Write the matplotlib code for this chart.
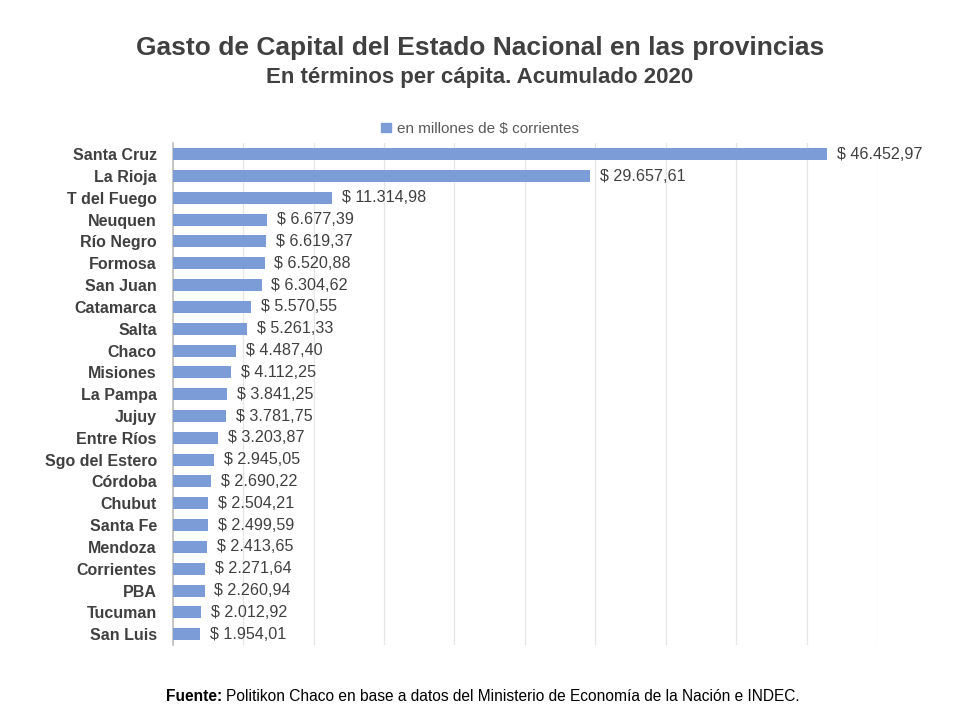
import matplotlib.pyplot as plt
from matplotlib.patches import Patch

plt.rcParams['font.family'] = ['Liberation Sans', 'DejaVu Sans']

provincias = ['Santa Cruz', 'La Rioja', 'T del Fuego', 'Neuquen', 'Río Negro', 'Formosa',
              'San Juan', 'Catamarca', 'Salta', 'Chaco', 'Misiones', 'La Pampa', 'Jujuy',
              'Entre Ríos', 'Sgo del Estero', 'Córdoba', 'Chubut', 'Santa Fe', 'Mendoza',
              'Corrientes', 'PBA', 'Tucuman', 'San Luis']
gasto = [46452.97, 29657.61, 11314.98, 6677.39, 6619.37, 6520.88, 6304.62, 5570.55,
         5261.33, 4487.40, 4112.25, 3841.25, 3781.75, 3203.87, 2945.05, 2690.22,
         2504.21, 2499.59, 2413.65, 2271.64, 2260.94, 2012.92, 1954.01]

bar_color = '#7B9CD7'
txt_color = '#404040'

def fmt(v):
    # 46452.97 -> "$ 46.452,97"
    s = f"{v:,.2f}".replace(',', 'X').replace('.', ',').replace('X', '.')
    return '$ ' + s

fig = plt.figure(figsize=(9.6, 7.2), dpi=100)
ax = fig.add_axes([0.180, 0.104, 0.7335, 0.697])

y = list(range(len(provincias)))
ax.barh(y, gasto, height=0.55, color=bar_color, zorder=3)

for yi, v in zip(y, gasto):
    ax.text(v + 700, yi, fmt(v), va='center', ha='left', fontsize=11.6, color=txt_color, zorder=4)

ax.set_xlim(0, 50000)
ax.set_ylim(len(provincias) - 0.5, -0.5)
ax.set_xticks(range(0, 50001, 5000))
ax.set_xticklabels([])
ax.tick_params(axis='x', length=0)
ax.tick_params(axis='y', length=0, pad=11.5)
ax.set_yticks(y)
ax.set_yticklabels(provincias, fontsize=11.5, fontweight='bold', color=txt_color)
ax.grid(axis='x', color='#E6E6E6', linewidth=0.9, zorder=0)

for side in ['top', 'right', 'bottom']:
    ax.spines[side].set_visible(False)
ax.spines['left'].set_color('#BFBFBF')
ax.spines['left'].set_linewidth(1.2)

fig.text(0.5, 0.933, 'Gasto de Capital del Estado Nacional en las provincias',
         ha='center', va='center', fontsize=19, fontweight='bold', color=txt_color)
fig.text(0.5, 0.893, 'En términos per cápita. Acumulado 2020',
         ha='center', va='center', fontsize=16, fontweight='bold', color=txt_color)

handles = [Patch(color=bar_color, label='en millones de $ corrientes')]
fig.legend(handles=handles, loc='center', bbox_to_anchor=(0.5, 0.821), frameon=False,
           fontsize=11, labelcolor='#595959', handlelength=0.6, handleheight=0.6,
           handletextpad=0.4)

# footer: bold "Fuente:" followed by regular text, centred as a whole
foot_y = 0.032
t1 = fig.text(0, foot_y, 'Fuente:', ha='left', va='center', fontsize=11.2,
              fontweight='bold', color='black')
t2 = fig.text(0, foot_y,
              'Politikon Chaco en base a datos del Ministerio de Economía de la Nación e INDEC.',
              ha='left', va='center', fontsize=11.2, color='black')
fig.canvas.draw()
w1 = t1.get_window_extent().width
w2 = t2.get_window_extent().width
gap = 4
x0 = 483 - (w1 + gap + w2) / 2
t1.set_x(x0 / fig.bbox.width)
t2.set_x((x0 + w1 + gap) / fig.bbox.width)

fig.savefig('out.png', dpi=100)
